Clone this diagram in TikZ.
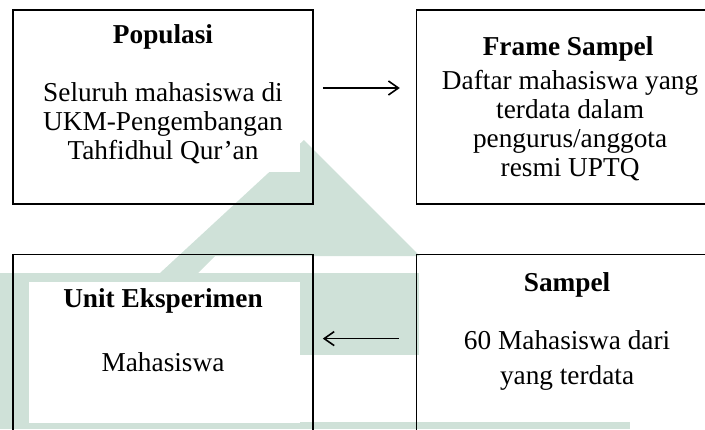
\documentclass[tikz,border=0pt]{standalone}
\usepackage{fontspec}
\setmainfont{Liberation Serif}
\usetikzlibrary{positioning, arrows.meta}
\definecolor{wmark}{RGB}{207,225,216}

\begin{document}
\begin{tikzpicture}[x=1pt, y=1pt,
        box/.style={draw, line width=1.6pt, minimum width=300pt, minimum height=194pt, inner sep=0pt},
        title/.style={font=\fontsize{27.3}{29}\selectfont\bfseries, inner sep=0pt},
        body/.style={font=\fontsize{27.3}{29}\selectfont, align=center, inner sep=0pt},
        link/.style={-{Straight Barb[length=10pt, width=14pt]}, line width=1.6pt}]
        \useasboundingbox (0,0) rectangle (705,-429);
        \clip (0,0) rectangle (705,-429);
        %---------------------------
        \fill[wmark] (304,-140) -- (420,-256) -- (215,-256) -- (198,-273) -- (160,-273) -- cycle;
        \fill[wmark] (0,-273) rectangle (433,-355);
        \fill[wmark] (0,-355) rectangle (29,-429);
        \fill[wmark] (0,-422) rectangle (630,-429);
        \fill[white] (20,-15) rectangle (300,-172);
        \fill[white] (29,-282) rectangle (300,-423);
        \fill[white] (419,-258) rectangle (705,-421);
        %---------------------------
        \node[box] (pop) at (163,-107) {};
        \node[box, minimum width=291pt, right=102pt of pop] (frame) {};
        \node[box, below=49pt of pop] (unit) {};
        \node[box, minimum width=291pt, below=49pt of frame] (sampel) {};
        %---------------------------
        \node[title] (popTitle) at ([yshift=-28pt]pop.north) {Populasi};
        \node[body] (popText) at ([yshift=-114pt]pop.north) {Seluruh mahasiswa di\\UKM-Pengembangan\\Tahfidhul Qur’an};
        \node[title] (frameTitle) at ([xshift=6pt, yshift=-40pt]frame.north) {Frame Sampel};
        \node[body] (frameText) at ([xshift=8pt, yshift=-116pt]frame.north) {Daftar mahasiswa yang\\terdata dalam\\pengurus/anggota\\resmi UPTQ};
        \node[title] (unitTitle) at ([yshift=-47pt]unit.north) {Unit Eksperimen};
        \node[body] (unitText) at ([yshift=-108pt]unit.north) {Mahasiswa};
        \node[title] (sampelTitle) at ([xshift=5pt, yshift=-31pt]sampel.north) {Sampel};
        \node[body] (sampelText) at ([xshift=5pt, yshift=-107pt]sampel.north) {60 Mahasiswa dari\\[6pt]yang terdata};
        %--------------------------
        \draw[link, shorten <=9pt, shorten >=16pt] ([yshift=19pt]pop.east) -- ([yshift=19pt]frame.west);
        \draw[link, shorten <=17pt, shorten >=9pt] ([yshift=13pt]sampel.west) -- ([yshift=13pt]unit.east);
\end{tikzpicture}
\end{document}
